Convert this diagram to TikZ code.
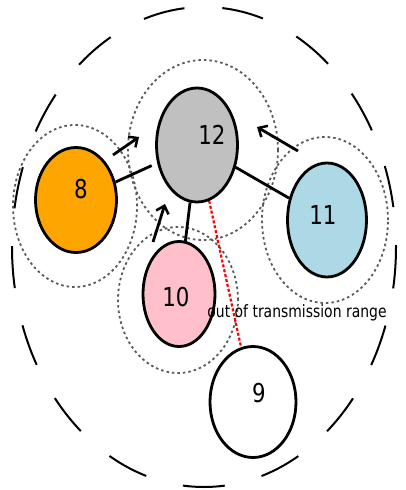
\documentclass[tikz,border=0pt]{standalone}
\usepackage{fontspec}
\setmainfont{DejaVu Sans}[FakeStretch=0.82]
\usetikzlibrary{arrows.meta,shapes.geometric}
\definecolor{node8}{HTML}{FFA500}
\definecolor{node10}{HTML}{FFC0CB}
\definecolor{node11}{HTML}{ADD8E6}
\definecolor{node12}{HTML}{C0C0C0}
\tikzset{
  station/.style={draw, ellipse, line width=2.8pt, inner sep=0pt},
  num/.style={font=\fontsize{26}{26}\selectfont},
  txrange/.style={draw=black!65, line width=1.8pt, dash pattern=on 2.5pt off 3pt},
  link/.style={draw, line width=2.8pt},
  move/.style={draw, line width=2.8pt, -{Straight Barb[length=7pt,width=13pt,line width=2.5pt]}}
}
\begin{document}
\begin{tikzpicture}[x=1pt,y=-1pt]
\useasboundingbox (0,0) rectangle (405,490);
% area
\draw[line width=2pt, dash pattern=on 42pt off 38pt, dash phase=40pt] (204,247) ellipse [x radius=192pt, y radius=240pt];
% ranges
\path[txrange] (203,150) ellipse [x radius=75pt, y radius=90pt];
\path[txrange] (75,206) ellipse [x radius=62pt, y radius=81pt];
\path[txrange] (325,220) ellipse [x radius=63pt, y radius=83pt];
\path[txrange] (178,300) ellipse [x radius=60pt, y radius=73pt];
% stations
\node[station, fill=node12, minimum width=81pt, minimum height=114pt] (n12) at (197,145) {};
\node[station, fill=node8, minimum width=81pt, minimum height=105pt] (n8) at (76,200) {};
\node[station, fill=node11, minimum width=79pt, minimum height=114pt] (n11) at (327,220) {};
\node[station, fill=node10, minimum width=72pt, minimum height=105pt] (n10) at (179,294) {};
\node[station, fill=white, minimum width=86pt, minimum height=111pt] (n9) at (253,402) {};
\node[num] (t12) at (212,135) {12};
\node[num] (t8) at (81,189) {8};
\node[num] (t11) at (323,215) {11};
\node[num] (t10) at (176,297) {10};
\node[num] (t9) at (259,393) {9};
% links
\path[link, shorten >=6pt] (n8) -- (n12);
\path[link] (n12) -- (n11);
\path[link] (n12) -- (n10);
\path[draw, red, line width=2.2pt, dash pattern=on 3pt off 2pt] (n12) -- (n9);
\node[font=\fontsize{17}{17}\selectfont, inner sep=0pt] (oor) at (297,313) {out of transmission range};
% movement
\coordinate (a8s) at (113,155);
\coordinate (a8e) at (139,137);
\coordinate (a11s) at (298,151);
\coordinate (a11e) at (257,127);
\coordinate (a10s) at (153,242);
\coordinate (a10e) at (165,204);
\path[move] (a8s) -- (a8e);
\path[move] (a11s) -- (a11e);
\path[move] (a10s) -- (a10e);
\end{tikzpicture}
\end{document}
